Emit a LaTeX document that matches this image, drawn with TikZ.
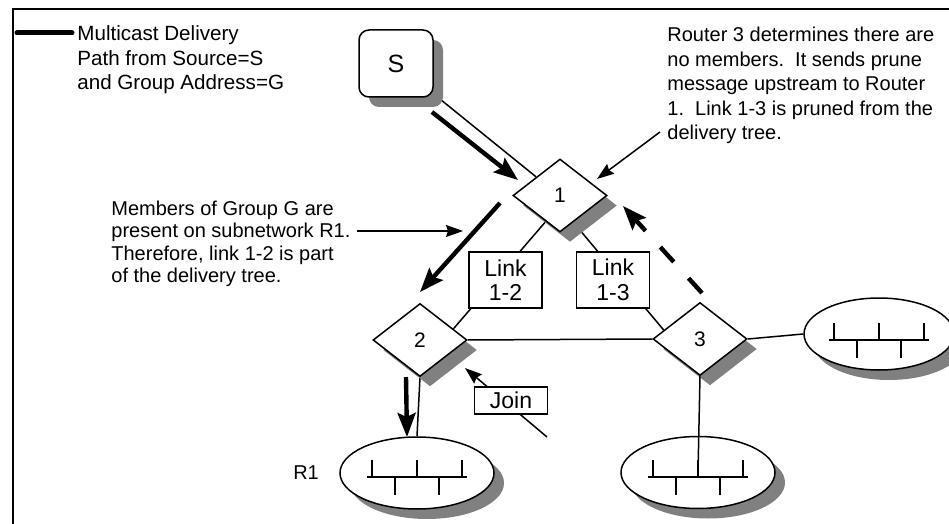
\documentclass[tikz,border=0pt]{standalone}
\usepackage{fontspec}
\setmainfont{Liberation Sans}
\usetikzlibrary{positioning,calc,shapes.geometric,shadows,arrows.meta}
\pgfdeclarelayer{bg}
\pgfsetlayers{bg,main}
\begin{document}
\begin{tikzpicture}[
x=0.5pt, y=-0.5pt, font=\fontsize{10}{12.25}\selectfont, boxshadow/.style={drop shadow={shadow xshift=5pt, shadow yshift=-5pt, fill=black!50, opacity=1}}, router/.style={diamond, draw, fill=white, line width=0.75pt, minimum width=47pt, minimum height=36.5pt, inner sep=0pt, font=\fontsize{10.5}{12.5}\selectfont, boxshadow}, srcbox/.style={rectangle, draw, fill=white, rounded corners=5pt, line width=0.75pt, minimum width=37pt, minimum height=33.5pt, font=\fontsize{12.5}{14}\selectfont, boxshadow}, subnet/.style={ellipse, draw, fill=white, line width=0.75pt, minimum width=77pt, minimum height=36pt, inner sep=0pt, boxshadow}, linkbox/.style={rectangle, draw, fill=white, line width=0.75pt, minimum width=36.5pt, minimum height=28pt, inner sep=0pt, align=center, font=\fontsize{11.5}{12.25}\selectfont}, note/.style={anchor=north west, align=left, inner sep=0pt}, link/.style={line width=0.75pt}, deliver/.style={line width=2.2pt, -{Stealth[length=12pt, width=9pt, inset=2pt]}}, pointer/.style={line width=0.75pt, -{Stealth[length=8.5pt, width=6pt, inset=1pt]}}, frameline/.style={line width=0.8pt}, bus/.pic={\draw[line width=1pt] (-50,0) -- (50,0) (-45,0) -- (-45,-17) (0,0) -- (0,-17) (45,0) -- (45,-17) (-22,0) -- (-22,18) (22,0) -- (22,18);} ]
\clip (0,0) rectangle (949,524);
\draw[frameline] (13,524) -- (13,9) -- (949,9);
\coordinate (legstart) at (17,33);
\coordinate (legend) at (72,33);
\draw[line width=2.5pt, line cap=round] (legstart) -- (legend);
\node[note, font=\fontsize{10.3}{12.25}\selectfont] (legendtxt) at (77,25.5) {Multicast Delivery\\Path from Source=S\\and Group Address=G};
\node[note] (prunetxt) at (667,26.7) {Router 3 determines there are\\no members.\ \ It sends prune\\message upstream to Router\\1.\ \ Link 1-3 is pruned from the\\delivery tree.};
\node[note, font=\fontsize{10}{11.15}\selectfont] (membtxt) at (111,200.7) {Members of Group G are\\present on subnetwork R1.\\Therefore, link 1-2 is part\\of the delivery tree.};
\node[srcbox] (S) at (396,63.5) {S};
\node[router] (r1) at (560,195.5) {1};
\node[router] (r2) at (420,340) {2};
\node[router] (r3) at (700,339) {3};
\node[subnet] (R1net) at (417,473) {};
\node[subnet] (snB) at (698,472.5) {};
\node[subnet, minimum width=75pt] (snA) at (879,334) {};
\node[left=10pt of R1net.west, inner sep=0pt] (r1label) {R1};
\node[linkbox] (l12) at (505.5,280) {Link\\1-2};
\node[linkbox] (l13) at (613,280) {Link\\1-3};
\node[linkbox, minimum height=13.5pt] (join) at (511,400.5) {Join};
\pic at ($(R1net.center)+(0,4)$) {bus};
\pic at ($(snA.center)+(0,6)$) {bus};
\draw[link] (r3.south) -- (snB.center);
\pic at ($(snB.center)+(0,4.5)$) {bus};
\coordinate (d1s) at (432,112);
\coordinate (d1e) at (518,180);
\coordinate (d2s) at (500,203);
\coordinate (d2e) at (420,292);
\coordinate (d3s) at (406,377);
\coordinate (d3e) at (407,437);
\coordinate (d4s) at (702,293);
\coordinate (d4e) at (623,206);
\coordinate (p1s) at (660,132);
\coordinate (p1e) at (597,179);
\coordinate (p2s) at (357,231);
\coordinate (p2e) at (463,231);
\coordinate (p3s) at (547,437);
\coordinate (p3e) at (465,368);
\begin{pgfonlayer}{bg}
\draw[link] (S) -- (r1.north west);
\draw[link] ($(r1.west)!0.7!(r1.south)$) -- ($(r2.north)!0.7!(r2.east)$);
\draw[link] ($(r1.east)!0.72!(r1.south)$) -- ($(r3.north)!0.76!(r3.west)$);
\draw[link] (r2.east) -- (r3.west);
\draw[link] (r2.south) -- (R1net.north);
\draw[link] (r3.east) -- (snA.west);
\draw[pointer] (p3s) -- (p3e);
\end{pgfonlayer}
\draw[deliver] (d1s) -- (d1e);
\draw[deliver] (d2s) -- (d2e);
\draw[deliver] (d3s) -- (d3e);
\draw[deliver, dash pattern=on 10pt off 11pt] (d4s) -- (d4e);
\draw[pointer] (p1s) -- (p1e);
\draw[pointer] (p2s) -- (p2e);
\end{tikzpicture}
\end{document}
